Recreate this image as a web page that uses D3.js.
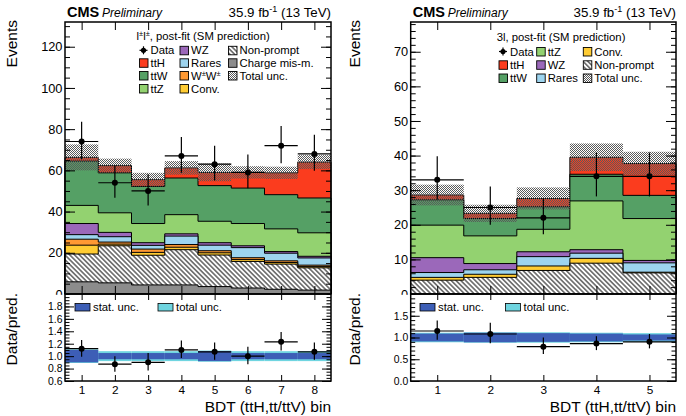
<!DOCTYPE html>
<html><head><meta charset="utf-8">
<script src="https://cdn.jsdelivr.net/npm/d3@7"></script>
<style>body{margin:0;background:#fff}svg{display:block}text{font-family:"Liberation Sans",Arial,Helvetica,sans-serif}</style>
</head><body><svg id="c" width="686" height="416"></svg>
<script>
// ---------------- DATA: left panel (l±l±) ----------------
const L_bins = [1,2,3,4,5,6,7,8];
const L_chargeMis = [5.9, 5.4, 4.4, 4.4, 3.6, 2.9, 2.3, 1.9];
const L_nonPrompt = [13.5, 18.0, 14.4, 17.1, 15.3, 12.9, 12.2, 10.8];
const L_conv      = [4.3, 0.8, 1.4, 1.2, 1.1, 0.9, 0.8, 0.6];
const L_ww        = [2.9, 1.0, 1.6, 1.3, 1.0, 0.9, 0.8, 0.7];
const L_rares     = [2.2, 2.6, 1.8, 4.1, 2.7, 4.9, 3.7, 3.5];
const L_wz        = [5.4, 2.1, 1.3, 1.1, 1.2, 0.9, 0.8, 0.8];
const L_ttz       = [8.8, 9.5, 9.3, 9.3, 10.4, 10.8, 11.0, 11.4];
const L_ttw       = [21.5, 19.4, 18.0, 17.8, 17.3, 17.2, 16.6, 16.9];
const L_tth       = [1.8, 3.5, 3.3, 4.9, 6.4, 7.6, 10.6, 17.4];
const L_totUnc    = [6.3, 3.4, 3.3, 3.3, 4.3, 3.0, 3.0, 3.4];
const L_data      = [74, 54, 50, 67, 63, 59, 72, 68];
const L_dataLo    = [8.6, 7.3, 7.1, 8.2, 7.9, 7.7, 8.5, 8.2];
const L_dataHi    = [9.6, 8.4, 8.1, 9.2, 8.9, 8.7, 9.5, 9.3];
const L_ratio     = [1.12, 0.87, 0.90, 1.10, 1.07, 1.00, 1.23, 1.07];
const L_ratioLo   = [0.13, 0.12, 0.13, 0.13, 0.13, 0.13, 0.14, 0.13];
const L_ratioHi   = [0.14, 0.13, 0.15, 0.15, 0.15, 0.15, 0.16, 0.15];
const L_statBand  = [0.10, 0.05, 0.05, 0.05, 0.08, 0.05, 0.05, 0.05];
const L_totBand   = [0.11, 0.08, 0.08, 0.08, 0.09, 0.08, 0.08, 0.08];
const L_yTicks = [0, 20, 40, 60, 80, 100, 120];
const L_rTicks = [0.6, 0.8, 1.0, 1.2, 1.4, 1.6, 1.8];

// ---------------- DATA: right panel (3l) ----------------
const R_bins = [1,2,3,4,5];
const R_nonPrompt = [4.0, 4.8, 6.8, 8.9, 6.1];
const R_conv      = [0.8, 0.9, 1.3, 1.4, 0.2];
const R_rares     = [1.4, 1.3, 2.7, 1.5, 2.7];
const R_wz        = [4.3, 1.8, 1.4, 1.0, 0.7];
const R_ttz       = [9.4, 8.0, 6.5, 14.1, 12.1];
const R_ttw       = [7.3, 5.0, 6.5, 7.7, 6.7];
const R_tth       = [1.4, 1.5, 2.4, 4.9, 9.2];
const R_totUnc    = [3.0, 2.5, 3.2, 4.0, 3.4];
const R_data      = [33, 25, 22, 34, 34];
const R_dataLo    = [5.7, 5.0, 4.7, 5.8, 5.8];
const R_dataHi    = [6.8, 6.1, 5.7, 6.9, 6.9];
const R_ratio     = [1.15, 1.08, 0.79, 0.86, 0.90];
const R_ratioLo   = [0.20, 0.21, 0.17, 0.15, 0.15];
const R_ratioHi   = [0.24, 0.26, 0.21, 0.17, 0.18];
const R_statBand  = [0.09, 0.11, 0.10, 0.09, 0.07];
const R_totBand   = [0.11, 0.12, 0.12, 0.11, 0.10];
const R_yTicks = [0, 10, 20, 30, 40, 50, 60, 70];
const R_rTicks = [0.0, 0.5, 1.0, 1.5];

// ---------------- STYLE ----------------
const COL = {
  chargeMis:"#8c8c8c", nonPrompt:"url(#hatch)", conv:"#ffcc33", ww:"#ff9933",
  rares:"#9dd4ef", wz:"#9b68ba", ttz:"#93d270", ttw:"#55a065", tth:"#fb3c1e"
};
const STAT_COL = "#3d5eb6", TOT_COL = "#6fd5e0";
const FONT = '"Liberation Sans",Arial,sans-serif';

const svg = d3.select("#c");
const defs = svg.append("defs");
const hp = defs.append("pattern").attr("id","hatch").attr("patternUnits","userSpaceOnUse")
  .attr("width",3.4).attr("height",3.4).attr("patternTransform","rotate(-45)");
hp.append("rect").attr("width",3.4).attr("height",3.4).attr("fill","#fff");
hp.append("line").attr("x1",1.7).attr("y1",0).attr("x2",1.7).attr("y2",3.4).attr("stroke","#1a1a1a").attr("stroke-width",1.05);
const cp = defs.append("pattern").attr("id","chk").attr("patternUnits","userSpaceOnUse").attr("width",2).attr("height",2);
cp.append("rect").attr("x",0).attr("y",0).attr("width",1).attr("height",1).attr("fill","#5a5a5a");
cp.append("rect").attr("x",1).attr("y",1).attr("width",1).attr("height",1).attr("fill","#5a5a5a");

function drawPanel(c) {
  const g = svg.append("g");
  const n = c.bins.length;
  const x = d3.scaleLinear().domain([0.5, n + 0.5]).range([c.x0, c.x1]);
  const y = d3.scaleLinear().domain([0, c.yMax]).range([c.mainBot, c.top]);
  const yr = d3.scaleLinear().domain(c.rDom).range([c.ratBot, c.mainBot]);

  // stack
  const rows = c.bins.map((b, i) => { const o = {}; c.layers.forEach(l => o[l.key] = l.vals[i]); return o; });
  const series = d3.stack().keys(c.layers.map(l => l.key))(rows);
  const area = d3.area().curve(d3.curveStepAfter).x(d => x(d[0])).y0(y(0)).y1(d => y(d[1]));
  const stepPts = vals => { const p = vals.map((v, i) => [i + 0.5, v]); p.push([n + 0.5, vals[n - 1]]); return p; };
  const totals = series[series.length - 1].map(d => d[1]);
  for (let s = series.length - 1; s >= 0; s--) {
    const top = series[s].map(d => d[1]);
    g.append("path").attr("d", area(stepPts(top))).attr("fill", COL[series[s].key])
      .attr("stroke", "#000").attr("stroke-width", 1);
  }
  // total unc band
  g.selectAll(null).data(c.bins).enter().append("rect")
    .attr("x", (b) => x(b - 0.5)).attr("width", (b) => x(b + 0.5) - x(b - 0.5))
    .attr("y", (b, i) => y(totals[i] + c.unc[i])).attr("height", (b, i) => y(totals[i] - c.unc[i]) - y(totals[i] + c.unc[i]))
    .attr("fill", "url(#chk)");
  // data
  const dg = g.append("g").attr("stroke", "#000").attr("stroke-width", 1.2);
  c.bins.forEach((b, i) => {
    dg.append("line").attr("x1", x(b)).attr("x2", x(b)).attr("y1", y(c.data[i] - c.dLo[i])).attr("y2", y(c.data[i] + c.dHi[i]));
    dg.append("line").attr("x1", x(b - 0.5)).attr("x2", x(b + 0.5)).attr("y1", y(c.data[i])).attr("y2", y(c.data[i]));
    dg.append("circle").attr("cx", x(b)).attr("cy", y(c.data[i])).attr("r", 3).attr("fill", "#000").attr("stroke", "none");
  });

  // main axes
  const minorY = d3.range(0, c.yMax, c.yMinor);
  const ax = (gen, tr, fs) => {
    const s = g.append("g").attr("transform", tr).call(gen);
    s.select(".domain").remove();
    s.selectAll(".tick line").attr("stroke", "#000").attr("stroke-width", 1);
    s.selectAll(".tick text").attr("font-size", fs || 12).attr("fill", "#000").attr("font-family", FONT);
    return s;
  };
  ax(d3.axisLeft(y).tickValues(c.yTicks).tickSize(-10).tickPadding(2.5).tickFormat(d3.format("d")), `translate(${c.x0},0)`, 12.8);
  ax(d3.axisLeft(y).tickValues(minorY).tickSize(-5).tickFormat(""), `translate(${c.x0},0)`);
  ax(d3.axisRight(y).tickValues(c.yTicks).tickSize(-10).tickFormat(""), `translate(${c.x1},0)`);
  ax(d3.axisRight(y).tickValues(minorY).tickSize(-5).tickFormat(""), `translate(${c.x1},0)`);
  ax(d3.axisTop(x).tickValues(c.bins).tickSize(-8).tickFormat(""), `translate(0,${c.top})`);
  ax(d3.axisBottom(x).tickValues(c.bins).tickSize(-8).tickFormat(""), `translate(0,${c.mainBot})`);
  g.append("rect").attr("x", c.x0).attr("y", c.top).attr("width", c.x1 - c.x0).attr("height", c.mainBot - c.top)
    .attr("fill", "none").attr("stroke", "#000").attr("stroke-width", 1.5);

  // ratio pad background
  g.append("rect").attr("x", c.padX).attr("y", c.mainBot + 0.8).attr("width", c.padW).attr("height", 416 - c.mainBot)
    .attr("fill", "#fff");
  c.bins.forEach((b, i) => {
    g.append("rect").attr("x", x(b - 0.5)).attr("width", x(b + 0.5) - x(b - 0.5))
      .attr("y", yr(1 + c.totBand[i])).attr("height", yr(1 - c.totBand[i]) - yr(1 + c.totBand[i])).attr("fill", TOT_COL);
  });
  c.bins.forEach((b, i) => {
    g.append("rect").attr("x", x(b - 0.5)).attr("width", x(b + 0.5) - x(b - 0.5))
      .attr("y", yr(1 + c.statBand[i])).attr("height", yr(1 - c.statBand[i]) - yr(1 + c.statBand[i])).attr("fill", STAT_COL);
  });
  const rg = g.append("g").attr("stroke", "#000").attr("stroke-width", 1.2);
  c.bins.forEach((b, i) => {
    rg.append("line").attr("x1", x(b)).attr("x2", x(b)).attr("y1", yr(c.ratio[i] - c.rLo[i])).attr("y2", yr(c.ratio[i] + c.rHi[i]));
    rg.append("line").attr("x1", x(b - 0.5)).attr("x2", x(b + 0.5)).attr("y1", yr(c.ratio[i])).attr("y2", yr(c.ratio[i]));
    rg.append("circle").attr("cx", x(b)).attr("cy", yr(c.ratio[i])).attr("r", 3).attr("fill", "#000").attr("stroke", "none");
  });
  const minorR = d3.range(c.rDom[0], c.rDom[1] + 1e-9, c.rMinor).map(v => +v.toFixed(3));
  ax(d3.axisLeft(yr).tickValues(c.rTicks).tickSize(-9).tickPadding(2.5).tickFormat(d3.format(".1f")), `translate(${c.x0},0)`, 10.4);
  ax(d3.axisLeft(yr).tickValues(minorR).tickSize(-4.5).tickFormat(""), `translate(${c.x0},0)`);
  ax(d3.axisRight(yr).tickValues(c.rTicks).tickSize(-9).tickFormat(""), `translate(${c.x1},0)`);
  ax(d3.axisRight(yr).tickValues(minorR).tickSize(-4.5).tickFormat(""), `translate(${c.x1},0)`);
  ax(d3.axisBottom(x).tickValues(c.bins).tickSize(-6).tickPadding(4.5).tickFormat(d3.format("d")), `translate(0,${c.ratBot})`, 11.8);
  ax(d3.axisTop(x).tickValues(c.bins).tickSize(-6).tickFormat(""), `translate(0,${c.mainBot})`);
  g.append("rect").attr("x", c.x0).attr("y", c.mainBot).attr("width", c.x1 - c.x0).attr("height", c.ratBot - c.mainBot)
    .attr("fill", "none").attr("stroke", "#000").attr("stroke-width", 1.5);

  // ratio legend
  const rl = [["stat. unc.", STAT_COL, c.rLeg[0]], ["total unc.", TOT_COL, c.rLeg[1]]];
  rl.forEach(([t, col, lx]) => {
    g.append("rect").attr("x", lx).attr("y", 303.5).attr("width", 15).attr("height", 7.5).attr("fill", col).attr("stroke", "#000").attr("stroke-width", 0.8);
    g.append("text").attr("x", lx + 18).attr("y", 311).attr("font-size", 11.3).text(t);
  });

  // titles
  g.append("text").attr("transform", `translate(${c.titleX},20) rotate(-90)`).attr("text-anchor", "end").attr("font-size", 15.5).text("Events");
  g.append("text").attr("transform", `translate(${c.titleX},293) rotate(-90)`).attr("text-anchor", "end").attr("font-size", 15.5).text("Data/pred.");
  g.append("text").attr("x", c.x1).attr("y", 412).attr("text-anchor", "end").attr("font-size", 15.5).text("BDT (ttH,tt/ttV) bin");
  g.append("text").attr("x", c.x0 + 2).attr("y", 17).attr("font-size", 14.5).attr("font-weight", "bold").text("CMS");
  g.append("text").attr("x", c.x0 + 37).attr("y", 17).attr("font-size", 12).attr("font-style", "italic").text("Preliminary");
  const lt = g.append("text").attr("x", c.x1).attr("y", 17).attr("text-anchor", "end").attr("font-size", 13.3);
  lt.append("tspan").text("35.9 fb");
  lt.append("tspan").attr("dy", -5).attr("font-size", 9).text("-1");
  lt.append("tspan").attr("dy", 5).text(" (13 TeV)");

  // legend
  const tt = g.append("text").attr("x", c.legTitleX).attr("y", c.legTitleY + 4).attr("font-size", 11.3);
  c.legTitle(tt);
  c.legend.forEach((e, k) => {
    const col = k % 3, row = Math.floor(k / 3);
    if (!e) return;
    const bx = c.legCols[col], cy = c.legRows[row];
    if (e.type === "data") {
      g.append("line").attr("x1", bx).attr("x2", bx + 8).attr("y1", cy).attr("y2", cy).attr("stroke", "#000").attr("stroke-width", 1.2);
      g.append("line").attr("x1", bx + 4).attr("x2", bx + 4).attr("y1", cy - 4).attr("y2", cy + 4).attr("stroke", "#000").attr("stroke-width", 1.2);
      g.append("circle").attr("cx", bx + 4).attr("cy", cy).attr("r", 2.6).attr("fill", "#000");
    } else {
      g.append("rect").attr("x", bx).attr("y", cy - 4).attr("width", 8.5).attr("height", 8.5).attr("fill", e.fill)
        .attr("stroke", "#000").attr("stroke-width", 0.9);
    }
    const tx = g.append("text").attr("x", bx + 11).attr("y", cy + 4).attr("font-size", 11.3);
    if (e.sup) { tx.append("tspan").text("W"); tx.append("tspan").attr("dy", -4).attr("font-size", 7.5).text("±");
      tx.append("tspan").attr("dy", 4).text("W"); tx.append("tspan").attr("dy", -4).attr("font-size", 7.5).text("±"); }
    else tx.text(e.label);
  });
}

drawPanel({
  bins: L_bins, x0: 65, x1: 331, top: 22, mainBot: 294, ratBot: 381, yMax: 132, yMinor: 5, yTicks: L_yTicks,
  rDom: [0.6, 2.0], rTicks: L_rTicks, rMinor: 0.05, padX: 0, padW: 343, titleX: 17,
  layers: [
    {key:"chargeMis", vals:L_chargeMis}, {key:"nonPrompt", vals:L_nonPrompt}, {key:"conv", vals:L_conv},
    {key:"ww", vals:L_ww}, {key:"rares", vals:L_rares}, {key:"wz", vals:L_wz},
    {key:"ttz", vals:L_ttz}, {key:"ttw", vals:L_ttw}, {key:"tth", vals:L_tth}],
  unc: L_totUnc, data: L_data, dLo: L_dataLo, dHi: L_dataHi,
  ratio: L_ratio, rLo: L_ratioLo, rHi: L_ratioHi, statBand: L_statBand, totBand: L_totBand,
  rLeg: [75, 158],
  legTitleX: 136.5, legTitleY: 35.5,
  legTitle: t => { t.append("tspan").text("l"); t.append("tspan").attr("dy", -4).attr("font-size", 7.5).text("±");
    t.append("tspan").attr("dy", 4).text("l"); t.append("tspan").attr("dy", -4).attr("font-size", 7.5).text("±");
    t.append("tspan").attr("dy", 4).text(", post-fit (SM prediction)"); },
  legCols: [139.5, 180, 228.5], legRows: [50.3, 62.8, 75.5, 88.5],
  legend: [
    {type:"data", label:"Data"}, {label:"WZ", fill:COL.wz}, {label:"Non-prompt", fill:"url(#hatch)"},
    {label:"ttH", fill:COL.tth}, {label:"Rares", fill:COL.rares}, {label:"Charge mis-m.", fill:COL.chargeMis},
    {label:"ttW", fill:COL.ttw}, {sup:true, fill:COL.ww}, {label:"Total unc.", fill:"url(#chk)"},
    {label:"ttZ", fill:COL.ttz}, {label:"Conv.", fill:COL.conv}, null]
});

drawPanel({
  bins: R_bins, x0: 410.7, x1: 676, top: 22, mainBot: 294, ratBot: 381, yMax: 78.6, yMinor: 2, yTicks: R_yTicks,
  rDom: [0.0, 2.0], rTicks: R_rTicks, rMinor: 0.1, padX: 343, padW: 343, titleX: 360,
  layers: [
    {key:"nonPrompt", vals:R_nonPrompt}, {key:"conv", vals:R_conv}, {key:"rares", vals:R_rares},
    {key:"wz", vals:R_wz}, {key:"ttz", vals:R_ttz}, {key:"ttw", vals:R_ttw}, {key:"tth", vals:R_tth}],
  unc: R_totUnc, data: R_data, dLo: R_dataLo, dHi: R_dataHi,
  ratio: R_ratio, rLo: R_ratioLo, rHi: R_ratioHi, statBand: R_statBand, totBand: R_totBand,
  rLeg: [420, 505.5],
  legTitleX: 496.7, legTitleY: 36.7,
  legTitle: t => t.text("3l, post-fit (SM prediction)"),
  legCols: [499, 536.7, 583.3], legRows: [51.5, 64.8, 78],
  legend: [
    {type:"data", label:"Data"}, {label:"ttZ", fill:COL.ttz}, {label:"Conv.", fill:COL.conv},
    {label:"ttH", fill:COL.tth}, {label:"WZ", fill:COL.wz}, {label:"Non-prompt", fill:"url(#hatch)"},
    {label:"ttW", fill:COL.ttw}, {label:"Rares", fill:COL.rares}, {label:"Total unc.", fill:"url(#chk)"}]
});
</script></body></html>
